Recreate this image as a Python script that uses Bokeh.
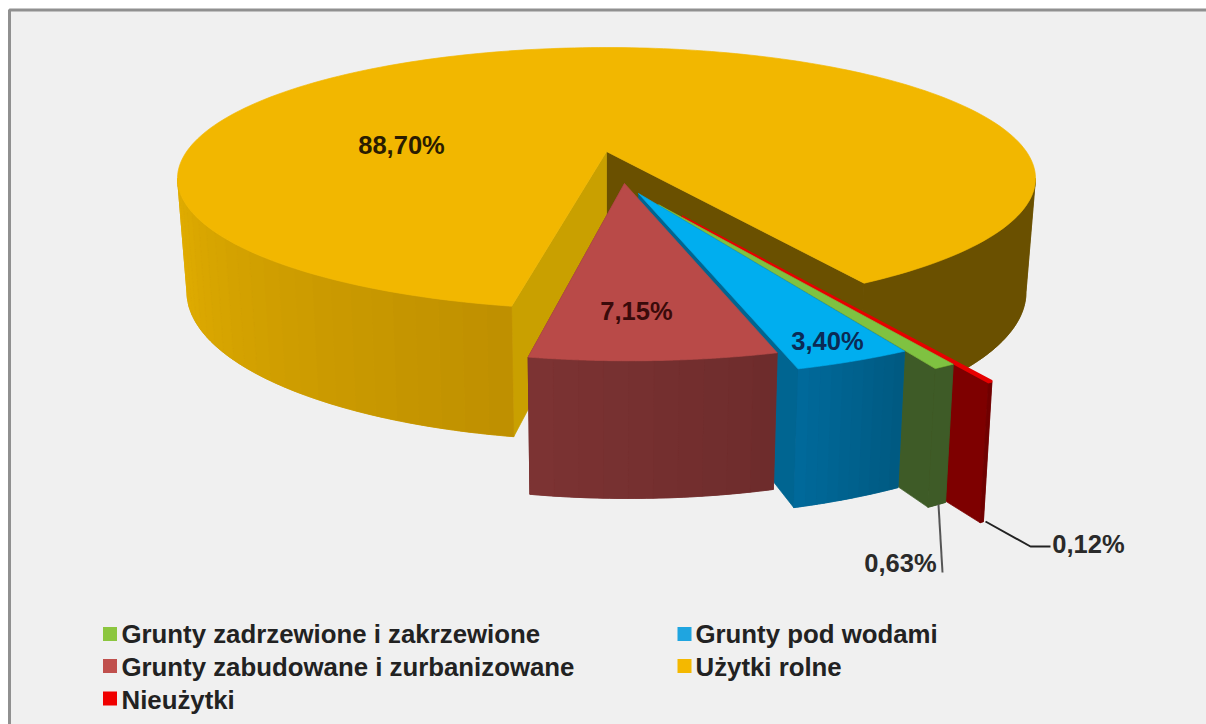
import numpy as np
from bokeh.plotting import figure
from bokeh.embed import file_html
from bokeh.resources import INLINE
from bokeh.core.properties import value

# --- data ---
categories = ["Nieużytki", "Grunty zadrzewione i zakrzewione", "Grunty pod wodami",
              "Grunty zabudowane i zurbanizowane", "Użytki rolne"]
shares = [0.12, 0.63, 3.40, 7.15, 88.70]
share_labels = ["0,12%", "0,63%", "3,40%", "7,15%", "88,70%"]
legend_order = [1, 2, 3, 4, 0]

# --- style ---
top_colors = ["#E60000", "#7FC241", "#00AEEF", "#B94A48", "#F2B700"]
legend_colors = ["#F00000", "#8CC63F", "#1FA5E0", "#C0504D", "#F4B800"]
FONT = value("Liberation Sans")
W, H = 1206, 724
START = np.deg2rad(59.7)
K = 0.206
CX = 606.0
TOP = dict(a=419.8, y0=151.0, b=125.4)
BOT = dict(a=410.5, y0=261.0, b=142.0)
explode = [(0.162, 0.467), (0.114, 0.39), (0.0713, 0.313), (0.0407, 0.242), (0.0, 0.0)]
TANGENT = np.arcsin(K)


def proj(u, v, pl):
    u, v = np.asarray(u, float), np.asarray(v, float)
    w = 1 - K * v
    return CX + pl["a"] * u / w, pl["y0"] + pl["b"] * v / w


def mix(c0, c1, f):
    a = [int(c0[i:i + 2], 16) for i in (1, 3, 5)]
    b = [int(c1[i:i + 2], 16) for i in (1, 3, 5)]
    return "#%02x%02x%02x" % tuple(int(round(x + (y - x) * f)) for x, y in zip(a, b))


p = figure(width=W, height=H, x_range=(0, W), y_range=(H, 0), output_backend="svg",
           toolbar_location=None, min_border=0)
p.axis.visible = False
p.grid.visible = False
p.outline_line_color = None
p.background_fill_color = "white"
p.border_fill_color = "white"

# frame
p.quad(left=[9], right=[W + 9], top=[9.5], bottom=[H + 9], fill_color="#F0F0F0",
       line_color="#909090", line_width=3)


def poly(xs, ys, c, lw=0.7):
    p.patch(list(xs), list(ys), fill_color=c, line_color=c, line_width=lw)


def flat_face(off, angle, c):
    u = [off[0], off[0] + np.cos(angle)]
    v = [off[1], off[1] + np.sin(angle)]
    x1, y1 = proj(u, v, TOP)
    x2, y2 = proj(u, v, BOT)
    poly(np.r_[x1, x2[::-1]], np.r_[y1, y2[::-1]], c)


def wall(a0, a1, off, c0, c1, n=8, m=8):
    t = np.linspace(a0, a1, n * m + 1)
    u, v = np.cos(t) + off[0], np.sin(t) + off[1]
    x1, y1 = proj(u, v, TOP)
    x2, y2 = proj(u, v, BOT)
    poly(np.r_[x1, x2[::-1]], np.r_[y1, y2[::-1]], mix(c0, c1, 0.5))
    for i in range(n):
        s = slice(i * m, (i + 1) * m + 1)
        poly(np.r_[x1[s], x2[s][::-1]], np.r_[y1[s], y2[s][::-1]],
             mix(c0, c1, i / max(n - 1, 1)), 0.5)


def top_face(a0, a1, off, c, lw=0.7):
    t = np.linspace(a0, a1, 240)
    u, v = np.cos(t) + off[0], np.sin(t) + off[1]
    x, y = proj(np.r_[off[0], u], np.r_[off[1], v], TOP)
    poly(x, y, c, lw)


fr = np.array(shares) / sum(shares) * 2 * np.pi
edges = START + np.r_[0, np.cumsum(fr)]

# main slice (index 4), drawn first
a0, a1 = edges[4], edges[5]
flat_face((0, 0), a1, "#6A5000")
flat_face((0, 0), a0, "#C9A000")
wall(TANGENT, a1 - 2 * np.pi, (0, 0), "#6A5000", "#6A5000", 1, 50)
wall(a0, np.pi - TANGENT, (0, 0), "#BF9000", "#E2AE00", 24, 4)
top_face(a0, a1, (0, 0), top_colors[4])

# exploded slices from back to front
wall_colors = [("#7A0000", "#700000"), ("#3E5B27", "#3E5B27"), ("#00699A", "#005A82"),
               ("#7C3333", "#6E2C2C")]
side_colors = ["#7E0000", "#3E5B27", "#006591", "#7C3333"]
for i in range(4):
    flat_face(explode[i], edges[i + 1], side_colors[i])
    wall(edges[i], edges[i + 1], explode[i], wall_colors[i][1], wall_colors[i][0], 10 if i > 1 else 1, 4)
    top_face(edges[i], edges[i + 1], explode[i], top_colors[i], 2.4 if i == 0 else 0.7)

# leader lines
p.line([938, 942], [504, 572], line_color="#555555", line_width=2)
p.line([985, 1030, 1050], [521, 546, 546], line_color="#222222", line_width=2)

# value labels
lab_x = [1088, 900, 827, 636, 401]
lab_y = [543, 562, 340, 310, 144]
lab_col = ["#2A2A2A", "#2A2A2A", "#0B2A55", "#3A0A0A", "#2A1C00"]
p.text(lab_x, lab_y, text=share_labels, text_font=FONT, text_font_style="bold",
       text_font_size="25.5px", text_align="center", text_baseline="middle", text_color=lab_col)

# legend
col_x = [121, 695]
mark_x = [109.5, 684]
row_y = [633, 666, 699]
mark_y = [633.5, 665.5, 698]
pos = [(0, 0), (1, 0), (0, 1), (1, 1), (0, 2)]
for k, idx in enumerate(legend_order):
    c, r = pos[k]
    p.rect([mark_x[c]], [mark_y[r]], width=14, height=14, fill_color=legend_colors[idx], line_color=None)
    p.text([col_x[c]], [row_y[r]], text=[categories[idx]], text_font=FONT, text_font_style="bold",
           text_font_size="25.8px", text_align="left", text_baseline="middle", text_color="#222222")

open("out.html", "w").write(file_html(p, INLINE))
